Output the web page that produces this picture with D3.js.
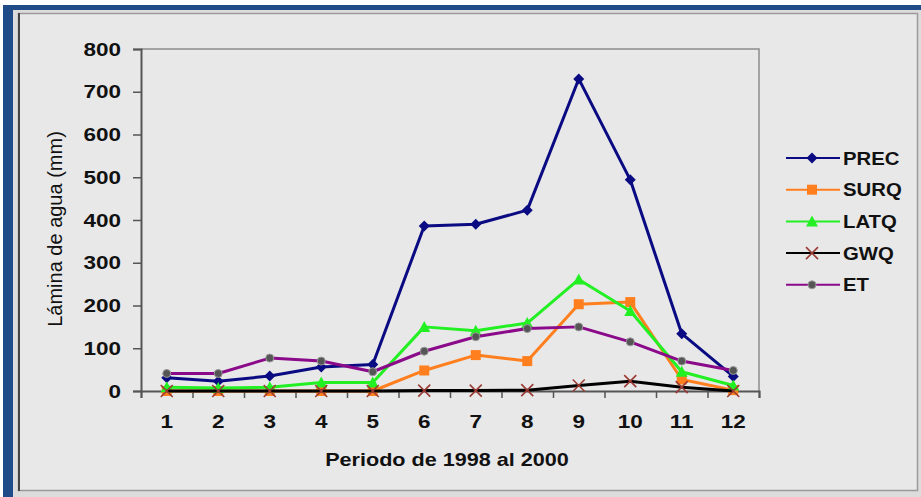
<!DOCTYPE html>
<html><head><meta charset="utf-8">
<script src="https://cdn.jsdelivr.net/npm/d3@7"></script>
<style>html,body{margin:0;padding:0;background:#fff}svg{display:block;font-family:"Liberation Sans",Arial,sans-serif}</style>
</head><body>
<svg id="c" width="921" height="497"></svg>
<script>
const categories = [1,2,3,4,5,6,7,8,9,10,11,12];
const prec = [31,23,35,56,62,386,390,423,730,494,134,34];
const surq = [0,0,0,0,0,48,84,70,203,208,27,2];
const latq = [9,7,9,20,20,150,141,159,261,187,45,13];
const gwq  = [0,0,0,0,0,1,1,2,13,23,9,0];
const et   = [41,41,77,70,45,93,127,146,150,115,70,48];
const yTicks = [0,100,200,300,400,500,600,700,800];
const seriesNames = ["PREC","SURQ","LATQ","GWQ","ET"];
const yTitle = "Lámina de agua (mm)";
const xTitle = "Periodo de 1998 al 2000";

const series = [
  {name:seriesNames[0], values:prec, color:"#0a0a82", marker:"diamond"},
  {name:seriesNames[1], values:surq, color:"#ff7f1e", marker:"square"},
  {name:seriesNames[2], values:latq, color:"#22f022", marker:"triangle"},
  {name:seriesNames[3], values:gwq,  color:"#000000", marker:"x"},
  {name:seriesNames[4], values:et,   color:"#8a0a8a", marker:"circle"}
];

const svg = d3.select("#c");
// window frame
svg.append("rect").attr("x",0).attr("y",0).attr("width",921).attr("height",497).attr("fill","#ffffff");
svg.append("rect").attr("x",3).attr("y",5).attr("width",918).attr("height",5).attr("fill","#1f4c88");
svg.append("rect").attr("x",3).attr("y",5).attr("width",10).attr("height",492).attr("fill","#1f4c88");
svg.append("rect").attr("x",13).attr("y",10).attr("width",908).attr("height",487).attr("fill","#dcdcdc");
svg.append("rect").attr("x",18.5).attr("y",13.5).attr("width",899).attr("height",477).attr("fill","#e8e8e8").attr("stroke","#9a9a9a").attr("stroke-width",1.5);
svg.append("line").attr("x1",19).attr("x2",19).attr("y1",13).attr("y2",491).attr("stroke","#444").attr("stroke-width",2);

const L = 141, R = 759, T = 49, B = 391;
const x = d3.scaleBand().domain(categories).range([L,R]);
const xb = d3.scaleLinear().domain([0,categories.length]).range([L,R]);
const y = d3.scaleLinear().domain([0,800]).range([B,T]);

// plot border
svg.append("path").attr("d",`M${L},${T}H${R}V${B}`).attr("fill","none").attr("stroke","#8c8c8c").attr("stroke-width",1.5);

function stretch(sel, sx){
  sel.each(function(){
    const t = d3.select(this);
    const tx = +t.attr("x")||0, ty = +t.attr("y")||0;
    t.attr("x",0).attr("y",0).attr("transform",`translate(${tx},${ty}) scale(${sx},1)`);
  });
}

// y axis
const ya = svg.append("g").attr("transform",`translate(${L},0)`)
  .call(d3.axisLeft(y).tickValues(yTicks).tickSize(8).tickPadding(12).tickFormat(d3.format("d")));
ya.select(".domain").attr("stroke","#555").attr("stroke-width",2);
ya.selectAll(".tick line").attr("stroke","#555").attr("stroke-width",1.5);
ya.selectAll(".tick text").attr("font-size",18).attr("font-weight","bold").attr("fill","#111")
  .attr("dy",null).attr("dominant-baseline",null)
  .each(function(){d3.select(this).attr("x",-20).attr("y",6);});
stretch(ya.selectAll(".tick text"),1.25);

// x axis ticks at boundaries
const xt = svg.append("g").attr("transform",`translate(0,${B})`)
  .call(d3.axisBottom(xb).tickValues(d3.range(categories.length+1)).tickSize(7).tickFormat(""));
xt.select(".domain").attr("stroke","#555").attr("stroke-width",2);
xt.selectAll(".tick line").attr("stroke","#555").attr("stroke-width",1.5);
// x labels
const xl = svg.append("g").attr("transform",`translate(0,${B})`)
  .call(d3.axisBottom(x).tickSize(0).tickPadding(0));
xl.select(".domain").remove();
xl.selectAll(".tick text").attr("font-size",18).attr("font-weight","bold").attr("fill","#111")
  .attr("dy",null).each(function(){d3.select(this).attr("x",0).attr("y",37);});
stretch(xl.selectAll(".tick text"),1.25);

// titles
svg.append("text").attr("x",(L+R)/2-3).attr("y",466).attr("text-anchor","middle")
  .attr("font-size",18).attr("font-weight","bold").attr("fill","#111").text(xTitle)
  .call(s=>stretch(s,1.2));
svg.append("text").attr("transform",`translate(62,229) rotate(-90)`).attr("text-anchor","middle")
  .attr("font-size",20).attr("fill","#111").text(yTitle);

// marker drawing
function drawMarker(g, type, cx, cy, color){
  if(type==="diamond"){
    g.append("path").attr("d",`M${cx},${cy-5.5}L${cx+5.5},${cy}L${cx},${cy+5.5}L${cx-5.5},${cy}Z`).attr("fill",color);
  } else if(type==="square"){
    g.append("rect").attr("x",cx-5).attr("y",cy-5).attr("width",10).attr("height",10).attr("fill",color);
  } else if(type==="triangle"){
    g.append("path").attr("d",`M${cx},${cy-6}L${cx+6},${cy+5}L${cx-6},${cy+5}Z`).attr("fill",color);
  } else if(type==="x"){
    g.append("path").attr("d",`M${cx-6},${cy-6}L${cx+6},${cy+6}M${cx+6},${cy-6}L${cx-6},${cy+6}`)
      .attr("stroke","#9a3b34").attr("stroke-width",1.6).attr("fill","none");
  } else if(type==="circle"){
    g.append("circle").attr("cx",cx).attr("cy",cy).attr("r",4).attr("fill","#555").attr("stroke","#999").attr("stroke-width",1);
  }
}

const line = d3.line().x((d,i)=>x(categories[i])+x.bandwidth()/2).y(d=>y(d));
series.forEach(s=>{
  const g = svg.append("g");
  g.append("path").datum(s.values).attr("d",line).attr("fill","none")
    .attr("stroke",s.color).attr("stroke-width",3).attr("stroke-linejoin","round");
  s.values.forEach((v,i)=>drawMarker(g,s.marker,x(categories[i])+x.bandwidth()/2,y(v),s.color));
});

// legend
const lg = svg.append("g");
series.forEach((s,i)=>{
  const cy = 158 + i*31.7;
  lg.append("line").attr("x1",786).attr("x2",840).attr("y1",cy).attr("y2",cy).attr("stroke",s.color).attr("stroke-width",2);
  drawMarker(lg,s.marker,812,cy,s.color);
  lg.append("text").attr("x",843).attr("y",cy+6.5).attr("font-size",18).attr("font-weight","bold").attr("fill","#111").text(s.name)
    .call(t=>stretch(t,1.13));
});
</script>
</body></html>
